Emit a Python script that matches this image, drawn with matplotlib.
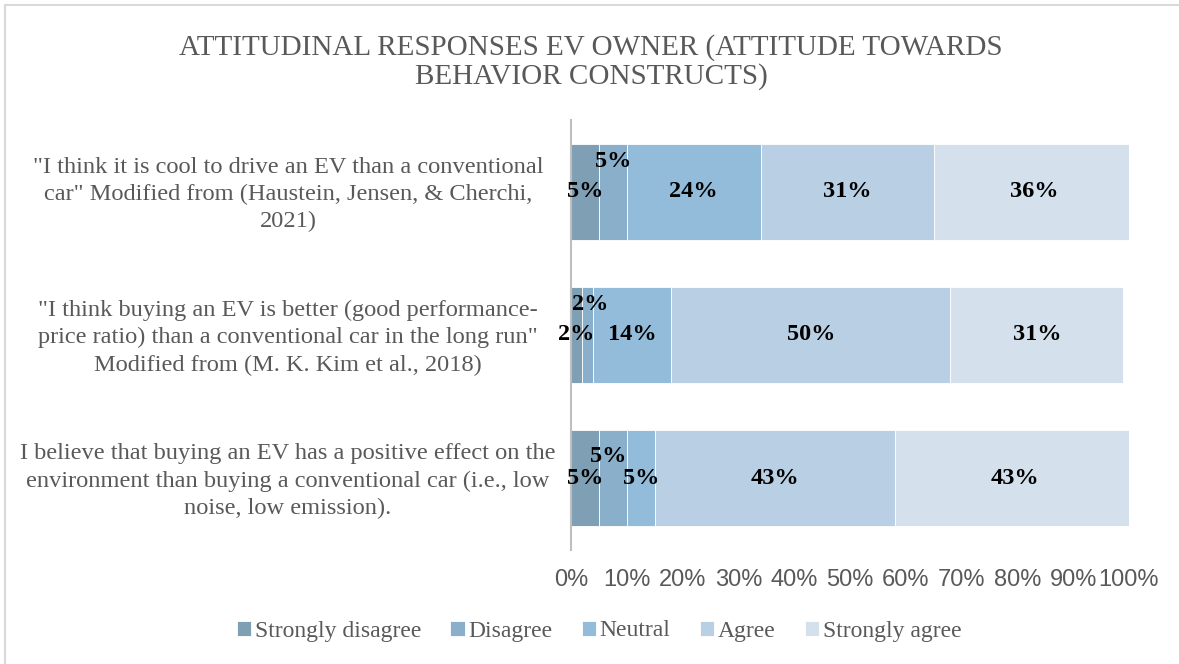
import matplotlib
matplotlib.use("Agg")
import matplotlib.pyplot as plt
from matplotlib.patches import Rectangle
from matplotlib.font_manager import FontProperties
import numpy as np

# Survey statements (top to bottom)
statements = [
    '"I think it is cool to drive an EV than a conventional\ncar" Modified from (Haustein, Jensen, & Cherchi,\n2021)',
    '"I think buying an EV is better (good performance-\nprice ratio) than a conventional car in the long run"\nModified from (M. K. Kim et al., 2018)',
    'I believe that buying an EV has a positive effect on the\nenvironment than buying a conventional car (i.e., low\nnoise, low emission).',
]
responses = ["Strongly disagree", "Disagree", "Neutral", "Agree", "Strongly agree"]

# Percent of respondents per response level, one list per statement
strongly_disagree = [5, 2, 5]
disagree = [5, 2, 5]
neutral = [24, 14, 5]
agree = [31, 50, 43]
strongly_agree = [36, 31, 43]

tick_values = [0, 10, 20, 30, 40, 50, 60, 70, 80, 90, 100]

series = [strongly_disagree, disagree, neutral, agree, strongly_agree]
colors = ["#7f9fb4", "#8aafca", "#93bcda", "#b9cfe3", "#d4e0eb"]

# Small labels are nudged (in points) so they do not collide
label_offsets = {
    (0, 1): (0, 22),
    (1, 1): (2, 22),
    (2, 1): (-3, 16),
}

plt.rcParams["font.family"] = ["Liberation Serif", "DejaVu Serif"]
serif = ["Liberation Serif", "DejaVu Serif"]
sans = ["Liberation Sans", "DejaVu Sans"]
grey = "#595959"

fig = plt.figure(figsize=(11.79, 6.64), dpi=100)
ax = fig.add_axes([571 / 1179, 114 / 664, 558 / 1179, 430 / 664])

y = np.arange(len(statements))
left = np.zeros(len(statements))
for si, (vals, col, name) in enumerate(zip(series, colors, responses)):
    vals = np.array(vals, dtype=float)
    ax.barh(y, vals, left=left, height=0.67, color=col, edgecolor="white",
            linewidth=0.6, label=name)
    for ci, v in enumerate(vals):
        cx = left[ci] + v / 2
        off = label_offsets.get((ci, si), (0, 0))
        ax.annotate(f"{int(v)}%", (cx, y[ci]), xytext=off, textcoords="offset points",
                    ha="center", va="center", fontsize=17.5, fontweight="bold",
                    family=serif, color="black", annotation_clip=False)
    left += vals

ax.set_xlim(0, 100)
ax.set_ylim(2.5, -0.5)
ax.set_xticks(tick_values)
ax.set_xticklabels([f"{t}%" for t in tick_values], family=sans, fontsize=17, color=grey)
ax.tick_params(axis="x", length=0, pad=14)
ax.set_yticks([])
for s in ["top", "right", "bottom"]:
    ax.spines[s].set_visible(False)
ax.spines["left"].set_color("#bfbfbf")
ax.spines["left"].set_linewidth(1.5)

# Category labels, centred text blocks left of the axis
for yi, txt in zip(y, statements):
    ax.text(-283 / 5.58, yi + 0.02, txt, ha="center", va="center",
            multialignment="center", family=serif, fontsize=17.6, color=grey,
            linespacing=1.38, transform=ax.transData, clip_on=False)

fig.text(591 / 1179, 1 - 62 / 664,
         "ATTITUDINAL RESPONSES EV OWNER (ATTITUDE TOWARDS\nBEHAVIOR CONSTRUCTS)",
         ha="center", va="center", family=serif, fontsize=21, color=grey,
         linespacing=1.12)

leg = fig.legend(loc="center", bbox_to_anchor=(599 / 1179, 1 - 631 / 664), ncol=5,
                 frameon=False, prop=FontProperties(family="Liberation Serif", size=17),
                 handlelength=0.6, handleheight=0.6, handletextpad=0.15,
                 columnspacing=1.25)
for t in leg.get_texts():
    t.set_color(grey)

# Chart border
fig.patches.append(Rectangle((5 / 1179, -0.1), 1.2, 1 - 5 / 664 + 0.1,
                             transform=fig.transFigure, fill=False,
                             edgecolor="#d9d9d9", linewidth=1.5))

fig.savefig("out.png", dpi=100)
